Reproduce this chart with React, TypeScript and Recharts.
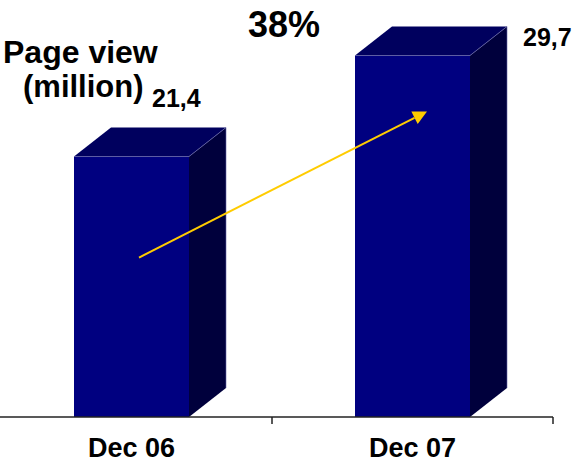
import React from 'react';
import { BarChart, Bar, XAxis, YAxis, ReferenceLine, LabelList } from 'recharts';

// ---- data ----
const categories = ['Dec 06', 'Dec 07'];
const pageViews = [21.4, 29.7];
const valueLabels = ['21,4', '29,7'];
const growthLabel = '38%';
const titleLines = ['Page view', '(million)'];
// growth arrow annotation: from Dec 06 (mid-bar) to Dec 07 (near the top), y in millions
const arrowFrom = { x: 'Dec 06', y: 13.1 };
const arrowTo = { x: 'Dec 07', y: 25.1 };
const yMax = 34.26;

const data = categories.map((name, i) => ({ name, value: pageViews[i], label: valueLabels[i] }));

// ---- styles ----
const FONT = '"Liberation Sans", Arial, sans-serif';
const FRONT = '#000080';
const TOP = '#00005e';
const SIDE = '#00003c';
const EDGE = '#6464a8';
const AXIS = '#222';
const DEPTH_X = 37;
const DEPTH_Y = 29;
const ARROW_NUDGE = { startDx: 7.5, endDx: 14.5 };
const labelOffsets = [
  { dx: 78, dy: -50 },
  { dx: 168, dy: -10 },
];

const Bar3D = (props: any) => {
  const { x, y, width, height } = props;
  const b = y + height;
  const r = x + width;
  return (
    <g>
      <rect x={x} y={y} width={width} height={height} fill={FRONT} />
      <polygon
        points={`${x},${y} ${x + DEPTH_X},${y - DEPTH_Y} ${r + DEPTH_X},${y - DEPTH_Y} ${r},${y}`}
        fill={TOP}
      />
      <polygon
        points={`${r},${y} ${r + DEPTH_X},${y - DEPTH_Y} ${r + DEPTH_X},${b - DEPTH_Y} ${r},${b}`}
        fill={SIDE}
      />
      <line x1={x} y1={y} x2={r} y2={y} stroke={EDGE} strokeWidth={0.8} />
      <line x1={r} y1={y} x2={r + DEPTH_X} y2={y - DEPTH_Y} stroke={EDGE} strokeWidth={0.8} />
      <line x1={r + DEPTH_X} y1={y - DEPTH_Y} x2={r + DEPTH_X} y2={b - DEPTH_Y} stroke={EDGE} strokeWidth={0.6} />
    </g>
  );
};

const ArrowShape = (props: any) => {
  const x1 = props.x1 + ARROW_NUDGE.startDx;
  const x2 = props.x2 + ARROW_NUDGE.endDx;
  const { y1, y2 } = props;
  const vx = x2 - x1;
  const vy = y2 - y1;
  const len = Math.sqrt(vx * vx + vy * vy) || 1;
  const ux = vx / len;
  const uy = vy / len;
  const L = 14;
  const H = 7;
  const bx = x2 - ux * L;
  const by = y2 - uy * L;
  const px = -uy;
  const py = ux;
  return (
    <g>
      <line x1={x1} y1={y1} x2={bx} y2={by} stroke="#ffcc00" strokeWidth={2} />
      <polygon
        points={`${x2},${y2} ${bx + px * H},${by + py * H} ${bx - px * H},${by - py * H}`}
        fill="#ffcc00"
      />
    </g>
  );
};

const renderValueLabel = (props: any) => {
  const { x, y, value, index } = props;
  const off = labelOffsets[index] || { dx: 0, dy: 0 };
  return (
    <text x={x + off.dx} y={y + off.dy} fontFamily={FONT} fontWeight="bold" fontSize={25} fill="#000">
      {value}
    </text>
  );
};

const renderTick = (props: any) => {
  const { x, y, payload } = props;
  const half = payload && payload.offset ? payload.offset : 0;
  return (
    <g>
      <line x1={x + half} y1={y} x2={x + half} y2={y + 7} stroke={AXIS} strokeWidth={1.5} />
      <text x={x} y={y} dy={40} textAnchor="middle" fontFamily={FONT} fontWeight="bold" fontSize={27} fill="#000">
        {payload.value}
      </text>
    </g>
  );
};

export default function App() {
  return (
    <div style={{ position: 'absolute', left: 0, top: 0, width: 582, height: 465, overflow: 'hidden', background: '#fff' }}>
      <div style={{ position: 'absolute', left: -9, top: 0 }}>
        <BarChart width={591} height={465} data={data} margin={{ top: 0, right: 29, bottom: 0, left: 0 }}>
          <XAxis
            dataKey="name"
            height={48}
            axisLine={{ stroke: AXIS, strokeWidth: 1.5 }}
            tickLine={false}
            tickSize={0}
            tickMargin={0}
            tick={renderTick}
            interval={0}
          />
          <YAxis hide domain={[0, yMax]} type="number" allowDataOverflow />
          <Bar dataKey="value" barSize={115} shape={Bar3D} isAnimationActive={false}>
            <LabelList dataKey="label" content={renderValueLabel} />
          </Bar>
          <ReferenceLine segment={[arrowFrom, arrowTo]} shape={ArrowShape} ifOverflow="visible" />
        </BarChart>
      </div>
      <svg width={582} height={465} style={{ position: 'absolute', left: 0, top: 0, pointerEvents: 'none' }}>
        <text x={248} y={37} fontFamily={FONT} fontWeight="bold" fontSize={36} fill="#000">
          {growthLabel}
        </text>
        <text x={3} y={63} fontFamily={FONT} fontWeight="bold" fontSize={32} fill="#000">
          {titleLines[0]}
        </text>
        <text x={23} y={97} fontFamily={FONT} fontWeight="bold" fontSize={31} fill="#000">
          {titleLines[1]}
        </text>
      </svg>
    </div>
  );
}
